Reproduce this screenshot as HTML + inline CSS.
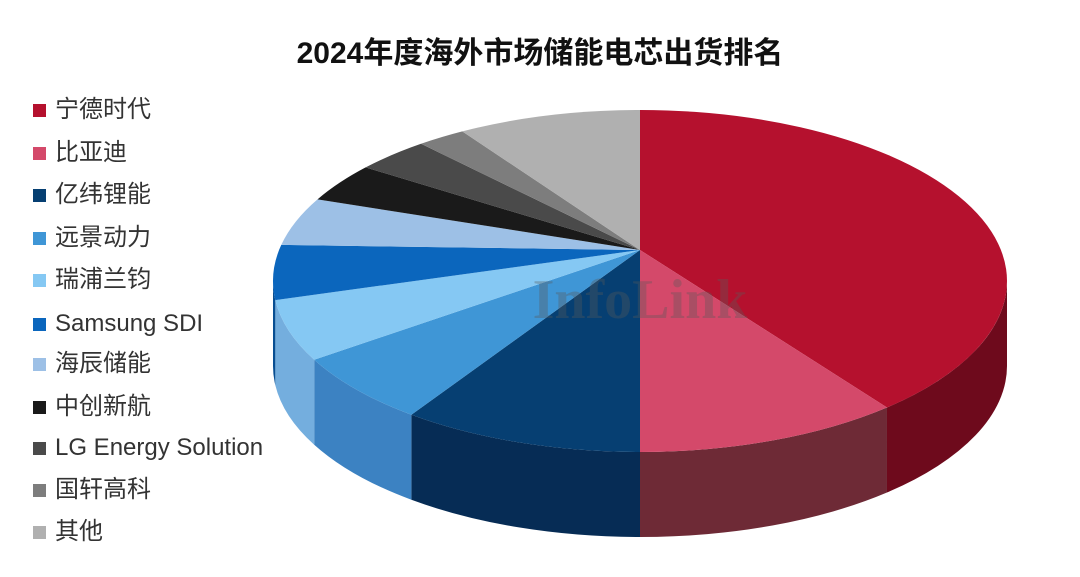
<!DOCTYPE html>
<html><head><meta charset="utf-8"><style>
body{margin:0;width:1080px;height:577px;background:#fff;overflow:hidden;position:relative;font-family:"Liberation Sans","Noto Sans CJK SC",sans-serif;}
.t{position:absolute;left:0;width:1080px;top:28px;text-align:center;font-weight:bold;font-size:30px;color:#111;}
.lg{position:absolute;left:33px;font-size:24px;color:#333;line-height:28px;white-space:nowrap;}
.lg i{display:inline-block;width:13px;height:13px;margin-right:9px;vertical-align:0px;}
</style></head><body>
<div class="t">2024年度海外市场储能电芯出货排名</div>
<svg id="s" width="1080" height="577" style="position:absolute;left:0;top:0"></svg>
<div id="L"></div>
<script>
var cx=640,cy=281,rx=367,ry=171,ax=640,ay=250,D=85;
var cols=["#b5112e","#d4496a","#063f72","#3f96d6","#85c8f3","#0b66bd","#9dc0e6","#1a1a1a","#4a4a4a","#7d7d7d","#b0b0b0"];
var side=["#6e0a1c","#6e2a36","#062c55","#3c82c2","#74aede","#084e92","#7fa3cc","#111","#333","#555","#888"];
var names=["宁德时代","比亚迪","亿纬锂能","远景动力","瑞浦兰钧","Samsung SDI","海辰储能","中创新航","LG Energy Solution","国轩高科","其他"];
var pts=[[640,110],[888,408],[640,452],[411,415],[313,360],[277,300],[282,245],[320,200],[367,168],[423,145],[463,132],[640,110]];
function T(p){return Math.atan2((p[1]-cy)/ry,(p[0]-cx)/rx);}
function P(t,d){return [cx+rx*Math.cos(t),cy+ry*Math.sin(t)+(d||0)];}
var ts=pts.map(T);ts[0]=-Math.PI/2;
for(var i=1;i<ts.length;i++){while(ts[i]<=ts[i-1])ts[i]+=2*Math.PI;}
var h="";
for(i=0;i<11;i++){var a=Math.max(ts[i],0),b=Math.min(ts[i+1],Math.PI);
 if(b>a){var p1=P(a),p2=P(b),q1=P(a,D),q2=P(b,D);
 h+='<path fill="'+side[i]+'" d="M'+p1+' A'+rx+' '+ry+' 0 0 1 '+p2+' L'+q2+' A'+rx+' '+ry+' 0 0 0 '+q1+'Z"/>';}}
for(i=0;i<11;i++){var p1=P(ts[i]),p2=P(ts[i+1]),lf=(ts[i+1]-ts[i])>Math.PI?1:0;
 h+='<path fill="'+cols[i]+'" d="M'+ax+','+ay+' L'+p1+' A'+rx+' '+ry+' 0 '+lf+' 1 '+p2+'Z"/>';}
h+='<text x="640" y="318" text-anchor="middle" font-family="Liberation Serif,serif" font-weight="bold" font-size="56" fill="rgba(90,90,90,0.35)">InfoLink</text>';
document.getElementById('s').innerHTML=h;
var ys=[110,153,195,238,280,324,364,407,448,490,532],l="";
for(i=0;i<11;i++)l+='<div class="lg" style="top:'+(ys[i]-14)+'px"><i style="background:'+cols[i]+'"></i>'+names[i]+'</div>';
document.getElementById('L').innerHTML=l;
</script>
</body></html>
